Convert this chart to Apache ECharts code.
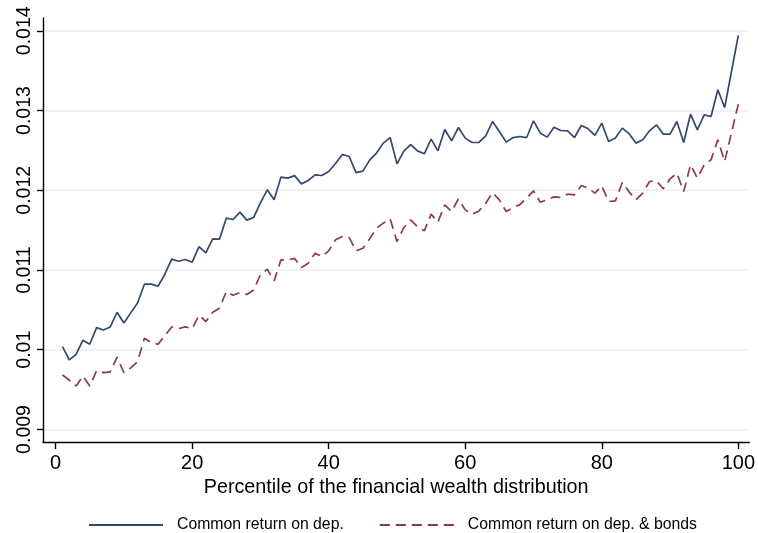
<!DOCTYPE html>
<html>
<head>
<meta charset="utf-8">
<script src="https://cdn.jsdelivr.net/npm/echarts@6/dist/echarts.min.js"></script>
<style>html,body{margin:0;padding:0;background:#fff}#c{width:758px;height:533px}</style>
</head>
<body>
<div id="c"></div>
<script>
const percentiles = Array.from({length: 100}, (_, i) => i + 1);
const depReturn = [
  0.010039, 0.009872, 0.009943, 0.010119, 0.010069, 0.010277, 0.010248, 0.010286, 0.010470, 0.010336,
  0.010462, 0.010587, 0.010822, 0.010822, 0.010797, 0.010947, 0.011137, 0.011110, 0.011131, 0.011098,
  0.011294, 0.011215, 0.011390, 0.011386, 0.011650, 0.011633, 0.011725, 0.011625, 0.011658, 0.011842,
  0.012005, 0.011880, 0.012164, 0.012152, 0.012183, 0.012080, 0.012122, 0.012193, 0.012185, 0.012235,
  0.012335, 0.012448, 0.012423, 0.012222, 0.012240, 0.012378, 0.012466, 0.012591, 0.012661, 0.012331,
  0.012490, 0.012572, 0.012494, 0.012457, 0.012641, 0.012494, 0.012762, 0.012620, 0.012787, 0.012654,
  0.012599, 0.012599, 0.012683, 0.012862, 0.012737, 0.012603, 0.012661, 0.012674, 0.012661, 0.012871,
  0.012716, 0.012666, 0.012791, 0.012749, 0.012745, 0.012661, 0.012812, 0.012770, 0.012687, 0.012842,
  0.012611, 0.012654, 0.012779, 0.012710, 0.012591, 0.012632, 0.012745, 0.012821, 0.012704, 0.012704,
  0.012862, 0.012599, 0.012955, 0.012758, 0.012946, 0.012925, 0.013260, 0.013038, 0.013489, 0.013941
];
const depBondsReturn = [
  0.009684, 0.009617, 0.009546, 0.009671, 0.009546, 0.009738, 0.009713, 0.009722, 0.009906, 0.009713,
  0.009772, 0.009850, 0.010144, 0.010089, 0.010069, 0.010177, 0.010286, 0.010265, 0.010286, 0.010265,
  0.010433, 0.010353, 0.010470, 0.010520, 0.010729, 0.010684, 0.010717, 0.010692, 0.010750, 0.010939,
  0.011010, 0.010863, 0.011127, 0.011125, 0.011145, 0.011030, 0.011085, 0.011211, 0.011168, 0.011240,
  0.011378, 0.011420, 0.011407, 0.011240, 0.011273, 0.011390, 0.011524, 0.011587, 0.011641, 0.011357,
  0.011530, 0.011629, 0.011545, 0.011491, 0.011700, 0.011600, 0.011817, 0.011733, 0.011892, 0.011754,
  0.011700, 0.011741, 0.011837, 0.011971, 0.011880, 0.011733, 0.011783, 0.011820, 0.011900, 0.011993,
  0.011850, 0.011880, 0.011917, 0.011909, 0.011951, 0.011942, 0.012059, 0.012026, 0.011964, 0.012055,
  0.011858, 0.011867, 0.012097, 0.011980, 0.011880, 0.011964, 0.012110, 0.012118, 0.012018, 0.012143,
  0.012214, 0.011984, 0.012319, 0.012152, 0.012319, 0.012381, 0.012632, 0.012360, 0.012720, 0.013080
];
const xTicks = [0, 20, 40, 60, 80, 100];
const xTickLabels = ['0', '20', '40', '60', '80', '100'];
const yTicks = [0.009, 0.010, 0.011, 0.012, 0.013, 0.014];
const yTickLabels = ['0.009', '0.01', '0.011', '0.012', '0.013', '0.014'];
const seriesNames = ['Common return on dep.', 'Common return on dep. & bonds'];
const xTitle = 'Percentile of the financial wealth distribution';

const FONT = '"Liberation Sans", Arial, sans-serif';
const chart = echarts.init(document.getElementById('c'), null, {renderer: 'canvas'});
function lbl(ticks, labels) {
  return v => { for (let i = 0; i < ticks.length; i++) if (Math.abs(v - ticks[i]) < 1e-9) return labels[i]; return ''; };
}
chart.setOption({
  animation: false,
  backgroundColor: '#ffffff',
  grid: {left: 43, right: 6, top: 18, bottom: 91, containLabel: false},
  xAxis: {
    type: 'value', min: -1.85, max: 101.6,
    name: xTitle, nameLocation: 'middle', nameGap: 32,
    nameTextStyle: {fontFamily: FONT, fontSize: 19.8, color: '#000'},
    axisLine: {show: true, onZero: false, lineStyle: {color: '#000', width: 1.4}},
    axisTick: {show: true, length: 7, lineStyle: {color: '#000', width: 1.4}, customValues: xTicks},
    axisLabel: {fontFamily: FONT, fontSize: 20, color: '#000', margin: 11, customValues: xTicks, formatter: lbl(xTicks, xTickLabels)},
    splitLine: {show: false}
  },
  yAxis: {
    type: 'value', min: 0.008843, max: 0.01416,
    axisLine: {show: true, onZero: false, lineStyle: {color: '#000', width: 1.4}},
    axisTick: {show: true, length: 6, lineStyle: {color: '#000', width: 1.4}, customValues: yTicks},
    axisLabel: {fontFamily: FONT, fontSize: 19.5, color: '#000', rotate: 90, margin: 8, customValues: yTicks, formatter: lbl(yTicks, yTickLabels)},
    splitLine: {show: true, lineStyle: {color: '#eaeff2', width: 1.6}}
  },
  legend: {
    left: 88, top: 517, padding: 0, itemWidth: 74, itemHeight: 12, itemGap: 35,
    itemStyle: {opacity: 0},
    textStyle: {fontFamily: FONT, fontSize: 15.8, color: '#000', padding: [0, 0, 0, 9]},
    data: seriesNames
  },
  series: [
    {name: seriesNames[0], type: 'line', symbol: 'none', data: percentiles.map((p, i) => [p, depReturn[i]]),
     lineStyle: {color: '#34496b', width: 1.7}, itemStyle: {color: '#34496b'}},
    {name: seriesNames[1], type: 'line', symbol: 'none', data: percentiles.map((p, i) => [p, depBondsReturn[i]]),
     lineStyle: {color: '#8b3c47', width: 1.7, type: [10, 6]}, itemStyle: {color: '#8b3c47'}}
  ]
});
</script>
</body>
</html>
